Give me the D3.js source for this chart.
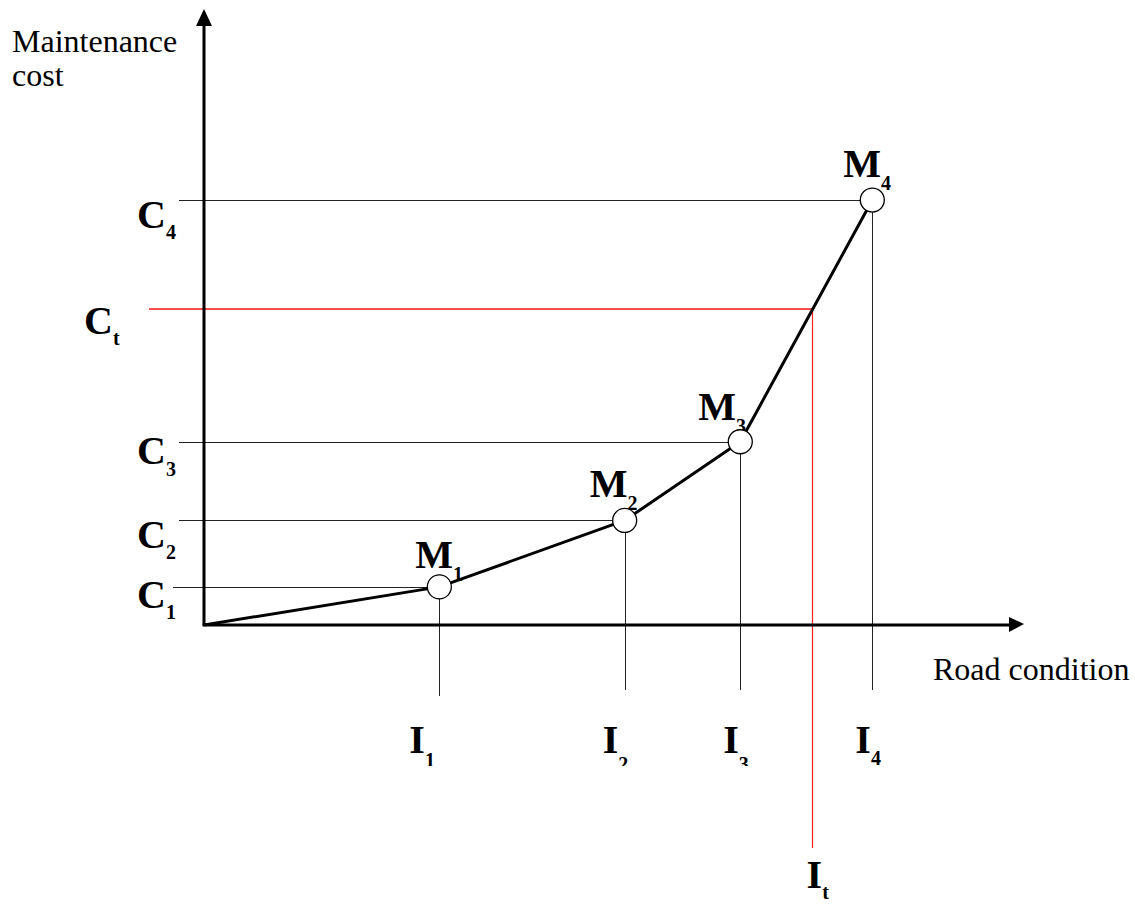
<!DOCTYPE html>
<html>
<head>
<meta charset="utf-8">
<script src="https://cdn.jsdelivr.net/npm/d3@7"></script>
<style>
  html, body { margin: 0; padding: 0; background: #fff; }
  svg { display: block; }
  text { font-family: "Liberation Serif", "Times New Roman", serif; fill: #000; }
</style>
</head>
<body>
<script>
// Maintenance cost as a function of road condition: four measured
// treatment points M1..M4 and a target cost Ct read off the curve.
const pointNames      = ["1", "2", "3", "4"];
const roadCondition   = [28.7, 51.3, 65.4, 81.5];  // I1..I4
const maintenanceCost = [6.2, 17.0, 29.8, 69.1];   // C1..C4
const targetCondition = 74.1;                      // It
const targetCost      = 51.4;                      // Ct

const xAxisTitle = "Road condition";
const yAxisTitle = ["Maintenance", "cost"];

// Hand placement of the annotation letters around each mark
const cLabelDy = [21, 28, 22, 28];
const cSubDy = [11, 11, 12, 11];
const mLabelOffset = [[-24, -19], [-35, -23], [-42, -22], [-29, -23]];
const iLabelDx = [-30, -22, -17, -17];
const iSubDy = [14, 18, 18, 12];

const W = 1135, H = 904;
const svg = d3.select("body").append("svg")
  .attr("width", W).attr("height", H)
  .style("background", "#fff");

// Text boxes that crop the lower part of their subscripts
const defs = svg.append("defs");
function clipAbove(id, bottom) {
  defs.append("clipPath").attr("id", id)
    .append("rect").attr("x", 0).attr("y", 0).attr("width", W).attr("height", bottom);
  return `url(#${id})`;
}
const clipI = clipAbove("clip-i", 766);
const clipC3 = clipAbove("clip-c3", 476);

const x = d3.scaleLinear().domain([0, 100]).range([204, 1024]);
const y = d3.scaleLinear().domain([0, 100]).range([625, 10]);

const guideLeft = 179;
const guideBottom = 690;
const labelLeft = 137;

const pts = roadCondition.map((v, i) => ({ name: pointNames[i], x: v, y: maintenanceCost[i] }));

// Thin guide lines from each point to the cost axis and below the condition axis
const guides = svg.append("g").attr("stroke", "#222").attr("stroke-width", 1);
guides.selectAll("line.h").data(pts).join("line")
  .attr("class", "h")
  .attr("x1", (d, i) => i === 0 ? guideLeft - 6 : guideLeft)
  .attr("x2", d => x(d.x))
  .attr("y1", d => Math.round(y(d.y)) + 0.5)
  .attr("y2", d => Math.round(y(d.y)) + 0.5);
guides.selectAll("line.v").data(pts).join("line")
  .attr("class", "v")
  .attr("x1", d => Math.round(x(d.x)) + 0.5)
  .attr("x2", d => Math.round(x(d.x)) + 0.5)
  .attr("y1", d => y(d.y))
  .attr("y2", (d, i) => i === 0 ? guideBottom + 6 : guideBottom);

// Target cost / condition in red
const red = svg.append("g").attr("stroke", "#ff2020").attr("fill", "none");
const ty = Math.round(y(targetCost)), tx = Math.round(x(targetCondition)) + 0.5;
red.append("line").attr("x1", 149).attr("x2", tx).attr("y1", ty).attr("y2", ty)
  .attr("stroke-width", 2).attr("stroke-opacity", 0.8);
red.append("line").attr("x1", tx).attr("x2", tx).attr("y1", ty).attr("y2", 848)
  .attr("stroke-width", 1.2);

// Axes with arrowheads
const axes = svg.append("g");
axes.append("line")
  .attr("x1", x(0)).attr("y1", y(0)).attr("x2", x(0)).attr("y2", y(100) + 12)
  .attr("stroke", "#000").attr("stroke-width", 3);
axes.append("line")
  .attr("x1", x(0) - 1.5).attr("y1", y(0)).attr("x2", x(100) - 12).attr("y2", y(0))
  .attr("stroke", "#000").attr("stroke-width", 3);
axes.append("path")
  .attr("d", `M${x(0)},${y(100) - 1} L${x(0) - 8},${y(100) + 16} L${x(0) + 8},${y(100) + 16} Z`)
  .attr("fill", "#000");
axes.append("path")
  .attr("d", `M${x(100)},${y(0) - 1} L${x(100) - 15},${y(0) - 8} L${x(100) - 15},${y(0) + 7} Z`)
  .attr("fill", "#000");

// Letter labels with subscripts
function subLabel(g, letter, sub, px, py, subDy, clip) {
  const t = g.append("text")
    .attr("x", px).attr("y", py)
    .attr("font-weight", "bold")
    .attr("font-size", 40);
  if (clip) t.attr("clip-path", clip);
  t.append("tspan").text(letter);
  t.append("tspan").attr("dy", subDy).attr("font-size", 20).text(sub);
  return t;
}

const labels = svg.append("g");
pts.forEach((d, i) => {
  subLabel(labels, "C", d.name, labelLeft, y(d.y) + cLabelDy[i], cSubDy[i], i === 2 ? clipC3 : null);
  subLabel(labels, "M", d.name, x(d.x) + mLabelOffset[i][0], y(d.y) + mLabelOffset[i][1], 13);
  subLabel(labels, "I", d.name, x(d.x) + iLabelDx[i], 753, iSubDy[i], clipI);
});
subLabel(labels, "C", "t", 84, y(targetCost) + 25, 11);
subLabel(labels, "I", "t", x(targetCondition) - 5, 888, 11);

// Cost curve from the origin through the measured points
const line = d3.line().x(d => x(d.x)).y(d => y(d.y));
svg.append("path")
  .datum([{ x: 0, y: 0 }, ...pts])
  .attr("d", line)
  .attr("fill", "none")
  .attr("stroke", "#000")
  .attr("stroke-width", 3)
  .attr("stroke-linejoin", "round");

svg.append("g").selectAll("circle").data(pts).join("circle")
  .attr("cx", d => x(d.x))
  .attr("cy", d => y(d.y))
  .attr("r", 12)
  .attr("fill", "#fff")
  .attr("stroke", "#000")
  .attr("stroke-width", 1.3);

// Axis titles
const yt = svg.append("text").attr("font-size", 32);
yt.selectAll("tspan").data(yAxisTitle).join("tspan")
  .attr("x", 12)
  .attr("y", (d, i) => 52 + i * 34)
  .text(d => d);
svg.append("text").attr("font-size", 32)
  .attr("x", 933).attr("y", 680)
  .text(xAxisTitle);
</script>
</body>
</html>
